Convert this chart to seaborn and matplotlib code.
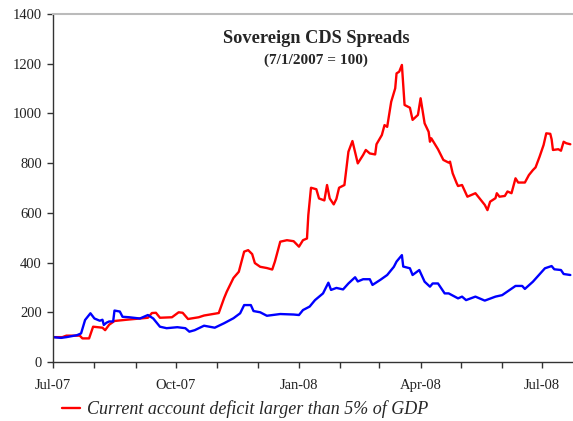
import matplotlib
matplotlib.use("Agg")
import matplotlib.pyplot as plt
import matplotlib.dates as mdates
import pandas as pd
import seaborn as sns

red_dates = ["2007-07-01", "2007-07-08", "2007-07-11", "2007-07-21", "2007-07-23", "2007-07-28",
             "2007-07-31", "2007-08-07", "2007-08-09", "2007-08-12", "2007-08-16", "2007-08-25",
             "2007-09-04", "2007-09-10", "2007-09-13", "2007-09-16", "2007-09-19", "2007-09-28",
             "2007-10-03", "2007-10-06", "2007-10-10", "2007-10-18", "2007-10-22", "2007-11-02",
             "2007-11-06", "2007-11-08", "2007-11-13", "2007-11-17", "2007-11-21", "2007-11-24",
             "2007-11-27", "2007-11-29", "2007-12-03", "2007-12-08", "2007-12-12", "2007-12-14",
             "2007-12-18", "2007-12-23", "2007-12-28", "2008-01-01", "2008-01-04", "2008-01-07",
             "2008-01-08", "2008-01-10", "2008-01-14", "2008-01-16", "2008-01-20", "2008-01-22",
             "2008-01-24", "2008-01-27", "2008-01-29", "2008-01-31", "2008-02-04", "2008-02-07",
             "2008-02-10", "2008-02-14", "2008-02-18", "2008-02-20", "2008-02-23", "2008-02-27",
             "2008-02-28", "2008-03-03", "2008-03-05", "2008-03-07", "2008-03-10", "2008-03-13",
             "2008-03-14", "2008-03-16", "2008-03-18", "2008-03-20", "2008-03-24", "2008-03-26",
             "2008-03-30", "2008-04-01", "2008-04-04", "2008-04-07", "2008-04-08", "2008-04-09",
             "2008-04-14", "2008-04-18", "2008-04-22", "2008-04-23", "2008-04-25", "2008-04-28",
             "2008-04-29", "2008-05-02", "2008-05-06", "2008-05-12", "2008-05-15", "2008-05-19",
             "2008-05-21", "2008-05-23", "2008-05-27", "2008-05-28", "2008-05-30", "2008-06-03",
             "2008-06-05", "2008-06-08", "2008-06-11", "2008-06-13", "2008-06-18", "2008-06-21",
             "2008-06-24", "2008-06-26", "2008-06-29", "2008-07-02", "2008-07-04", "2008-07-07",
             "2008-07-08", "2008-07-09", "2008-07-13", "2008-07-15", "2008-07-17", "2008-07-19",
             "2008-07-22"]
red_vals = [100, 100, 106, 106, 95, 95,
            142, 138, 128, 150, 165, 170,
            175, 178, 197, 198, 178, 180,
            200, 198, 173, 180, 187, 197,
            257, 283, 338, 363, 444, 450,
            434, 398, 383, 378, 372, 404,
            484, 490, 486, 464, 490, 497,
            591, 701, 695, 658, 650, 712,
            658, 634, 656, 701, 712, 846,
            889, 799, 833, 853, 839, 835,
            876, 913, 953, 946, 1047, 1101,
            1161, 1168, 1195, 1034, 1023, 974,
            994, 1061, 960, 926, 886, 900,
            856, 813, 802, 806, 759, 719,
            708, 712, 665, 679, 659, 632,
            611, 645, 659, 679, 665, 668,
            686, 679, 739, 722, 722, 752,
            772, 783, 826, 873, 920, 918,
            896, 853, 856, 850, 886, 880,
            876]

blue_dates = ["2007-07-01", "2007-07-07", "2007-07-11", "2007-07-19", "2007-07-22", "2007-07-25",
              "2007-07-29", "2007-08-01", "2007-08-05", "2007-08-07", "2007-08-08", "2007-08-10",
              "2007-08-12", "2007-08-15", "2007-08-16", "2007-08-20", "2007-08-22", "2007-08-27",
              "2007-09-04", "2007-09-10", "2007-09-14", "2007-09-19", "2007-09-24", "2007-10-02",
              "2007-10-08", "2007-10-11", "2007-10-15", "2007-10-22", "2007-10-30", "2007-11-06",
              "2007-11-13", "2007-11-18", "2007-11-21", "2007-11-26", "2007-11-28", "2007-12-03",
              "2007-12-08", "2007-12-18", "2007-12-28", "2008-01-01", "2008-01-04", "2008-01-09",
              "2008-01-13", "2008-01-19", "2008-01-23", "2008-01-25", "2008-01-29", "2008-02-03",
              "2008-02-07", "2008-02-12", "2008-02-14", "2008-02-18", "2008-02-23", "2008-02-25",
              "2008-03-02", "2008-03-07", "2008-03-12", "2008-03-14", "2008-03-18", "2008-03-19",
              "2008-03-24", "2008-03-26", "2008-03-31", "2008-04-04", "2008-04-08", "2008-04-10",
              "2008-04-14", "2008-04-19", "2008-04-22", "2008-04-29", "2008-05-02", "2008-05-05",
              "2008-05-12", "2008-05-19", "2008-05-27", "2008-06-01", "2008-06-11", "2008-06-16",
              "2008-06-18", "2008-06-24", "2008-07-03", "2008-07-08", "2008-07-10", "2008-07-15",
              "2008-07-17", "2008-07-22"]
blue_vals = [100, 97, 100, 108, 115, 169,
             196, 175, 166, 170, 149, 158,
             163, 163, 207, 203, 182, 180,
             175, 189, 175, 142, 136, 140,
             136, 122, 128, 146, 138, 156,
             176, 196, 229, 229, 205, 200,
             186, 193, 191, 189, 209, 223,
             249, 276, 319, 290, 298, 292,
             316, 341, 324, 333, 333, 310,
             331, 350, 383, 404, 430, 384,
             377, 350, 370, 323, 303, 316,
             316, 276, 276, 256, 263, 249,
             263, 247, 263, 269, 306, 306,
             294, 323, 377, 386, 373, 370,
             354, 350]

legend_label = "Current account deficit larger than 5% of GDP"

sns.set_style("ticks")
plt.rcParams['font.family'] = ['Liberation Serif', 'DejaVu Serif']

fig = plt.figure(figsize=(5.73, 4.21), dpi=100)
ax = fig.add_axes([53 / 573, 1 - 362 / 421, 520 / 573, 348 / 421])

sns.lineplot(x=pd.to_datetime(red_dates), y=red_vals, color='#ff0000', linewidth=1.7, ax=ax)
sns.lineplot(x=pd.to_datetime(blue_dates), y=blue_vals, color='#0000ff', linewidth=1.7, ax=ax)

ax.set_ylim(0, 1400)
ax.set_yticks(range(0, 1401, 200))
ax.set_xlim(pd.Timestamp("2007-07-01"), pd.Timestamp("2008-07-24"))
ax.xaxis.set_major_locator(mdates.MonthLocator(bymonth=[1, 4, 7, 10]))
ax.xaxis.set_minor_locator(mdates.MonthLocator())
ax.xaxis.set_major_formatter(mdates.DateFormatter('%b-%y'))
ax.tick_params(axis='both', which='both', direction='out', length=4, width=1, color='#333333',
               labelsize=10.5, labelcolor='#222222')
ax.tick_params(axis='x', which='major', pad=8)
ax.tick_params(axis='y', pad=4)

ax.spines['right'].set_visible(False)
ax.spines['top'].set_color('#bbbbbb')
ax.spines['top'].set_linewidth(1.5)
for s in ['left', 'bottom']:
    ax.spines[s].set_color('#333333')
    ax.spines[s].set_linewidth(1)
ax.set_xlabel('')
ax.set_ylabel('')

ax.text(0.506, 0.93, "Sovereign CDS Spreads", transform=ax.transAxes, ha='center', va='center',
        fontsize=13.2, fontweight='bold')
ax.text(0.506, 0.868, "(7/1/2007 = 100)", transform=ax.transAxes, ha='center', va='center',
        fontsize=11, fontweight='bold')

red_line = ax.get_lines()[0]
fig.legend(handles=[red_line], labels=[legend_label], loc='center left',
           bbox_to_anchor=(62 / 573, 1 - 409 / 421), frameon=False, borderpad=0, borderaxespad=0,
           handlelength=1.0, handletextpad=0.4,
           prop={'family': 'Liberation Serif', 'style': 'italic', 'size': 13})

fig.savefig("out.png", dpi=100)
